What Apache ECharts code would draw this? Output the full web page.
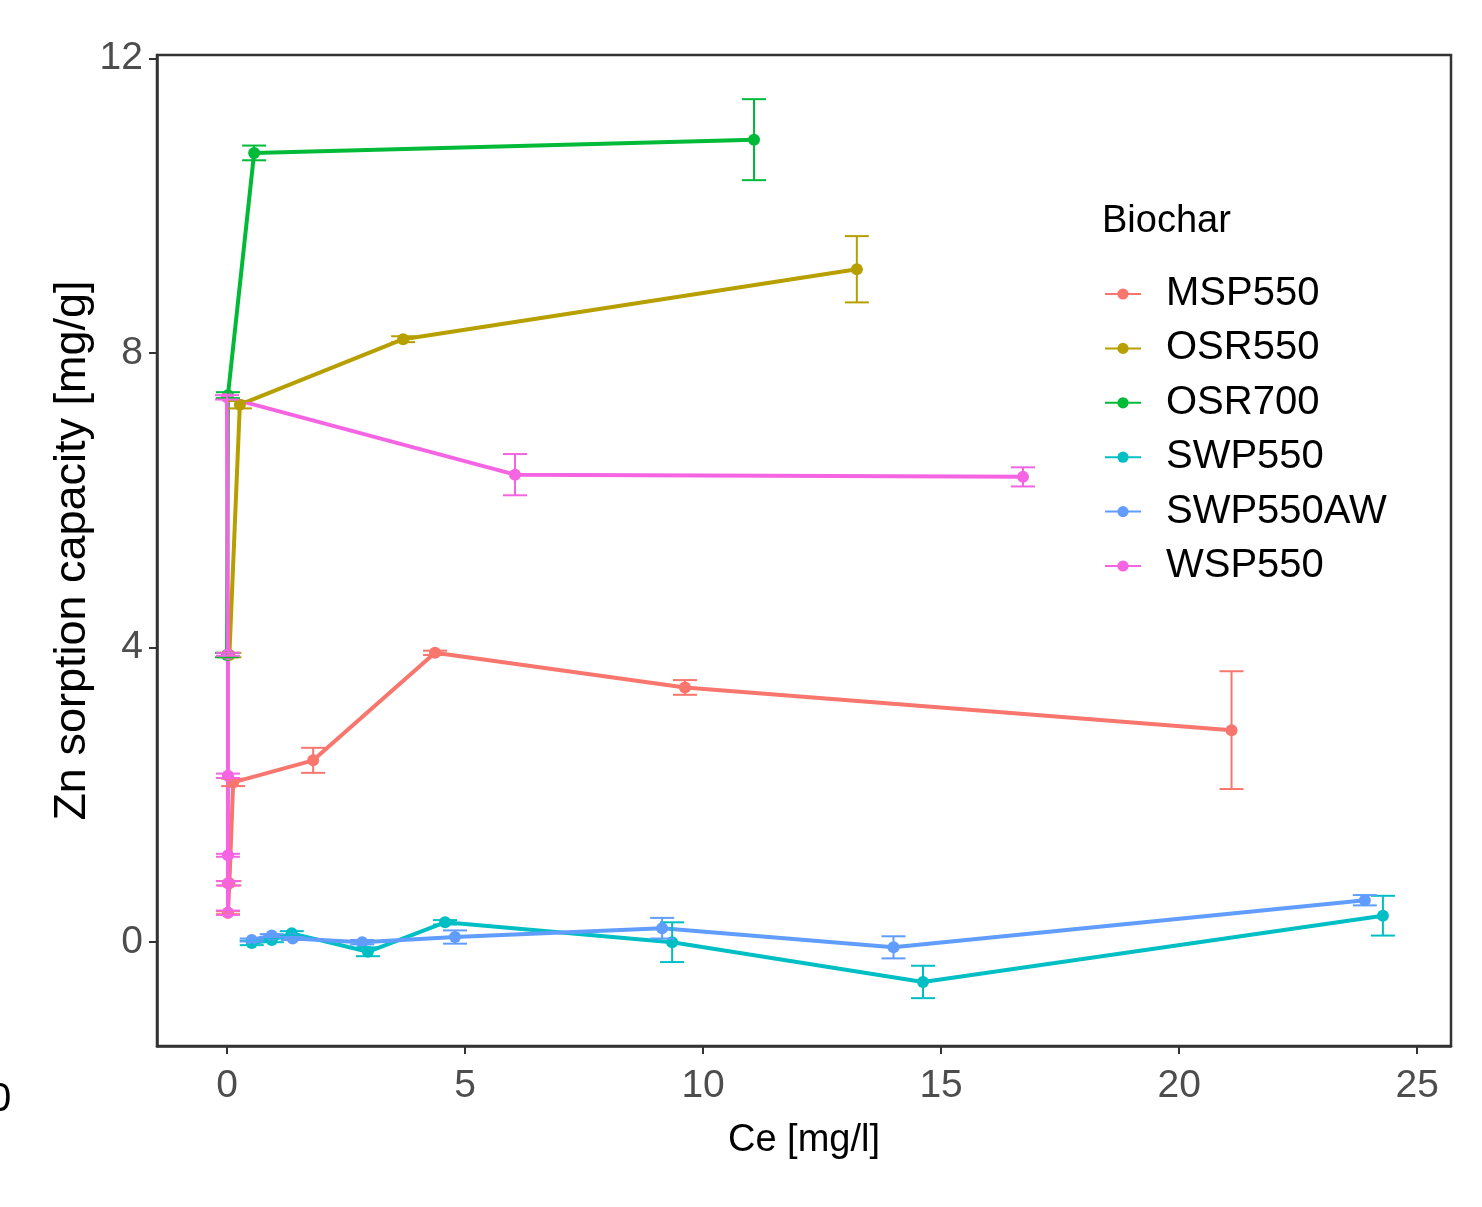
<!DOCTYPE html>
<html>
<head>
<meta charset="utf-8">
<style>
html,body{margin:0;padding:0;background:#fff;}
#chart{width:1482px;height:1207px;}
</style>
<script src="https://cdn.jsdelivr.net/npm/echarts@6/dist/echarts.min.js"></script>
</head>
<body>
<div id="chart"></div>
<script>
// ---- data ----
const seriesNames = ['MSP550', 'OSR550', 'OSR700', 'SWP550', 'SWP550AW', 'WSP550'];
const seriesColors = ['#F8766D', '#B79F00', '#00BA38', '#00BFC4', '#619CFF', '#F564E3'];

const msp550X = [0.02, 0.05, 0.13, 1.81, 4.37, 9.62, 21.1];
const msp550Y = [0.40, 0.80, 2.17, 2.47, 3.93, 3.46, 2.88];
const msp550E = [0.02, 0.03, 0.05, 0.17, 0.03, 0.10, 0.80];

const osr550X = [0.05, 0.27, 3.70, 13.23];
const osr550Y = [3.90, 7.30, 8.19, 9.14];
const osr550E = [0.03, 0.05, 0.04, 0.45];

const osr700X = [0.00, 0.02, 0.57, 11.07];
const osr700Y = [3.90, 7.43, 10.72, 10.90];
const osr700E = [0.03, 0.04, 0.10, 0.55];

const swp550X = [0.52, 0.94, 1.36, 2.96, 4.58, 9.35, 14.62, 24.28];
const swp550Y = [-0.01, 0.03, 0.12, -0.13, 0.27, 0.00, -0.54, 0.36];
const swp550E = [0.03, 0.03, 0.03, 0.06, 0.03, 0.27, 0.22, 0.27];

const swp550awX = [0.52, 0.94, 1.38, 2.84, 4.79, 9.14, 14.00, 23.90];
const swp550awY = [0.03, 0.09, 0.05, 0.00, 0.07, 0.19, -0.07, 0.57];
const swp550awE = [0.02, 0.02, 0.02, 0.03, 0.09, 0.14, 0.15, 0.07];

const wsp550X = [0.02, 0.02, 0.02, 0.02, 0.02, 0.00, 6.05, 16.72];
const wsp550Y = [0.40, 0.80, 1.18, 2.26, 3.91, 7.40, 6.35, 6.32];
const wsp550E = [0.03, 0.03, 0.02, 0.03, 0.02, 0.03, 0.28, 0.13];

const xTicks = [0, 5, 10, 15, 20, 25];
const yTicks = [0, 4, 8, 12];

const xTitle = 'Ce [mg/l]';
const yTitle = 'Zn sorption capacity [mg/g]';
const legendTitle = 'Biochar';

// ---- build ----
const allX = [msp550X, osr550X, osr700X, swp550X, swp550awX, wsp550X];
const allY = [msp550Y, osr550Y, osr700Y, swp550Y, swp550awY, wsp550Y];
const allE = [msp550E, osr550E, osr700E, swp550E, swp550awE, wsp550E];

const FONT = "'Liberation Sans', Arial, sans-serif";

function errRenderer(color) {
  return function (params, api) {
    const x = api.value(0), lo = api.value(1), hi = api.value(2);
    const a = api.coord([x, lo]);
    const b = api.coord([x, hi]);
    const hw = 12;
    const st = { stroke: color, lineWidth: 2 };
    return {
      type: 'group',
      children: [
        { type: 'line', shape: { x1: a[0], y1: a[1], x2: b[0], y2: b[1] }, style: st },
        { type: 'line', shape: { x1: a[0] - hw, y1: a[1], x2: a[0] + hw, y2: a[1] }, style: st },
        { type: 'line', shape: { x1: b[0] - hw, y1: b[1], x2: b[0] + hw, y2: b[1] }, style: st }
      ]
    };
  };
}

const series = [];
seriesNames.forEach((name, i) => {
  const xs = allX[i], ys = allY[i];
  series.push({
    name: name,
    type: 'line',
    data: xs.map((x, k) => [x, ys[k]]),
    symbol: 'circle',
    symbolSize: 12,
    showSymbol: true,
    lineStyle: { width: 4, color: seriesColors[i] },
    itemStyle: { color: seriesColors[i] },
    color: seriesColors[i],
    z: 2,
    animation: false,
    emphasis: { disabled: true }
  });
});
seriesNames.forEach((name, i) => {
  const xs = allX[i], ys = allY[i], es = allE[i];
  series.push({
    name: name + ' error',
    type: 'custom',
    renderItem: errRenderer(seriesColors[i]),
    data: xs.map((x, k) => [x, ys[k] - es[k], ys[k] + es[k]]),
    encode: { x: 0, y: [1, 2] },
    z: 3,
    animation: false,
    silent: true
  });
});

const chart = echarts.init(document.getElementById('chart'), null, { renderer: 'canvas' });
chart.setOption({
  backgroundColor: '#ffffff',
  animation: false,
  grid: {
    left: 157, right: 31, top: 55, bottom: 161,
    show: true, borderColor: '#333333', borderWidth: 2.5, backgroundColor: 'transparent'
  },
  xAxis: {
    type: 'value',
    min: -1.47, max: 25.71,
    name: xTitle,
    nameLocation: 'middle',
    nameGap: 76,
    nameMoveOverlap: false,
    nameTextStyle: { fontFamily: FONT, fontSize: 38, color: '#000', verticalAlign: 'top' },
    axisLine: { show: true, onZero: false, lineStyle: { color: '#333333', width: 2.5 } },
    axisTick: { show: true, inside: false, length: 8, lineStyle: { color: '#333333', width: 2 }, customValues: xTicks },
    axisLabel: { fontFamily: FONT, fontSize: 39, color: '#4D4D4D', margin: 21, customValues: xTicks },
    splitLine: { show: false }
  },
  yAxis: {
    type: 'value',
    min: -1.41, max: 12.05,
    name: yTitle,
    nameLocation: 'middle',
    nameRotate: 90,
    nameGap: 62,
    nameMoveOverlap: false,
    nameTextStyle: { fontFamily: FONT, fontSize: 45, color: '#000' },
    axisLine: { show: true, onZero: false, lineStyle: { color: '#333333', width: 2.5 } },
    axisTick: { show: true, inside: false, length: 8, lineStyle: { color: '#333333', width: 2 }, customValues: yTicks },
    axisLabel: { fontFamily: FONT, fontSize: 39, color: '#4D4D4D', margin: 14, customValues: yTicks },
    splitLine: { show: false }
  },
  legend: {
    data: seriesNames,
    orient: 'vertical',
    left: 1104,
    top: 274,
    padding: 0,
    itemWidth: 36,
    itemHeight: 14,
    itemGap: 14.4,
    selectedMode: false,
    textStyle: { fontFamily: FONT, fontSize: 40, color: '#000', lineHeight: 40, padding: [0, 0, 0, 20] }
  },
  graphic: [
    {
      type: 'text', x: 1102, y: 222,
      style: { text: legendTitle, font: "38px 'Liberation Sans', Arial, sans-serif", fill: '#000', verticalAlign: 'middle', align: 'left' }
    },
    {
      type: 'text', x: -11, y: 1100,
      style: { text: '0', font: "40px 'Liberation Sans', Arial, sans-serif", fill: '#000', verticalAlign: 'middle', align: 'left' }
    }
  ],
  series: series
});
</script>
</body>
</html>
